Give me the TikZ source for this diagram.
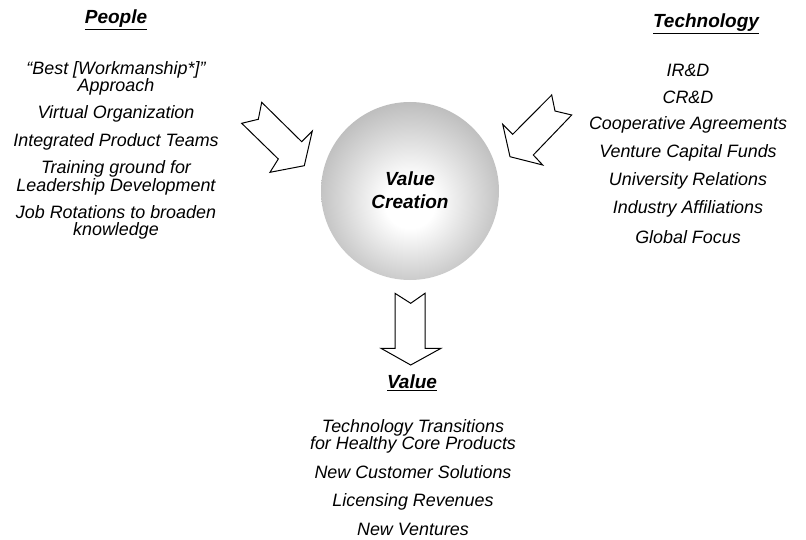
\documentclass[tikz,border=0pt]{standalone}
\usepackage{fontspec}
\setmainfont{Liberation Sans}
\pgfdeclareradialshading{sphereshade}{\pgfpoint{0bp}{-4bp}}{color(0bp)=(white); color(7bp)=(white); color(38bp)=(black!40); color(50bp)=(black!40)}
\tikzset{
  body/.style={font=\fontsize{17.9}{17.5}\selectfont\itshape, align=center, inner sep=0pt},
  title/.style={font=\fontsize{19}{20}\selectfont\bfseries\itshape, inner sep=0pt},
  blockarrow/.style={draw=black, line width=1pt, fill=white, line join=miter},
}
\newcommand{\ttl}[1]{\underline{#1}}
\begin{document}
\begin{tikzpicture}[x=1pt,y=-1pt]
\useasboundingbox (0,0) rectangle (806,540);
% sphere
\node[circle, minimum size=178pt, inner sep=0pt, shading=sphereshade] (sphere) at (410,191) {};
\node[title, align=center, font=\fontsize{19}{23}\selectfont\bfseries\itshape] (vc) at (410,190) {Value\\Creation};
% arrows
\draw[blockarrow] (261.7,102.3) -- (258.3,119.3) -- (241.7,123.3) -- (278.3,159) -- (270,172.3) -- (304.3,165.7) -- (312.3,131) -- (301.7,141.7) -- cycle;
\draw[blockarrow] (551.7,95) -- (555,111) -- (571.7,115) -- (533.3,155) -- (542.7,165) -- (510,156.7) -- (502.7,124.3) -- (512.7,134.3) -- cycle;
\draw[blockarrow] (395,293.3) -- (410.7,303.3) -- (425,293.3) -- (425,348.3) -- (441,348.3) -- (410.7,365) -- (381,348.3) -- (395,348.3) -- cycle;
% People
\node[title] (people) at (116,20) {\ttl{People}};
\node[body] (p1) at (116,78.5) {“Best [Workmanship*]”\\Approach};
\node[body] (p2) at (116,114) {Virtual Organization};
\node[body] (p3) at (116,142) {Integrated Product Teams};
\node[body] (p4) at (116,178) {Training ground for\\Leadership Development};
\node[body] (p5) at (116,222.5) {Job Rotations to broaden\\knowledge};
% Technology
\node[title] (tech) at (706,24) {\ttl{Technology}};
\node[body] (t1) at (688,70) {IR\&D};
\node[body] (t2) at (688,97) {CR\&D};
\node[body] (t3) at (688,125) {Cooperative Agreements};
\node[body] (t4) at (688,153) {Venture Capital Funds};
\node[body] (t5) at (688,181) {University Relations};
\node[body] (t6) at (688,209) {Industry Affiliations};
\node[body] (t7) at (688,237) {Global Focus};
% Value
\node[title] (value) at (412,383) {\ttl{Value}};
\node[body] (v1) at (413,436.5) {Technology Transitions\\for Healthy Core Products};
\node[body] (v2) at (413,472) {New Customer Solutions};
\node[body] (v3) at (413,501.5) {Licensing Revenues};
\node[body] (v4) at (413,529) {New Ventures};
\end{tikzpicture}
\end{document}
